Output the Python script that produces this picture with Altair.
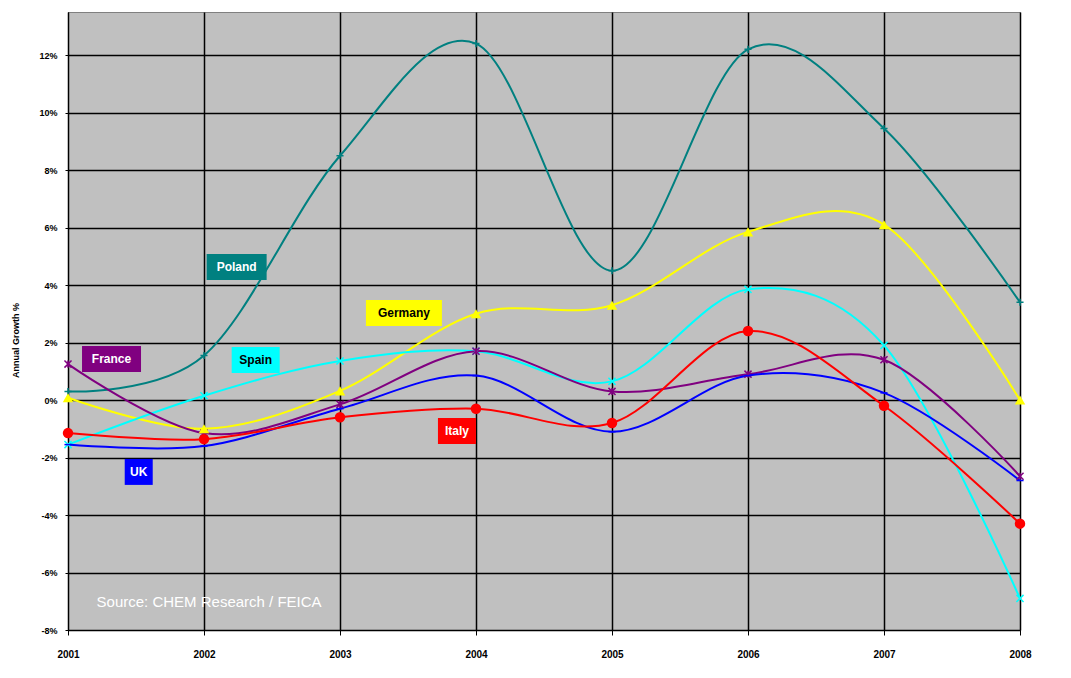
import altair as alt
import pandas as pd

years = [2001, 2002, 2003, 2004, 2005, 2006, 2007, 2008]
poland = [0.3, 1.55, 8.5, 12.4, 4.5, 12.2, 9.45, 3.4]
germany = [0.08, -1.0, 0.32, 3.0, 3.3, 5.85, 6.1, 0.0]
spain = [-1.55, 0.15, 1.36, 1.7, 0.65, 3.85, 1.9, -6.9]
france = [1.25, -1.15, -0.15, 1.7, 0.3, 0.9, 1.4, -2.65]
uk = [-1.55, -1.6, -0.3, 0.85, -1.1, 0.85, 0.25, -2.8]
italy = [-1.15, -1.36, -0.6, -0.3, -0.8, 2.4, -0.2, -4.3]

series_names = ["Poland", "Germany", "Spain", "France", "UK", "Italy"]
series_values = [poland, germany, spain, france, uk, italy]
series_colors = ["#008080", "#FFFF00", "#00FFFF", "#800080", "#0000FF", "#FF0000"]
series_shapes = [
    "M-1,0L1,0M0,-1L0,1",
    "triangle-up",
    "M-1,-1L1,1M-1,1L1,-1",
    "M-1,-1L1,1M-1,1L1,-1M0,-1L0,1",
    "M-1,0L1,0",
    "circle",
]
filled_series = ["Germany", "Italy"]

# label annotations (anchor in data space)
label_text = ["Poland", "Germany", "France", "Spain", "Italy", "UK"]
label_year = [2002.24, 2003.47, 2001.32, 2002.38, 2003.86, 2001.52]
label_val = [4.63, 3.03, 1.43, 1.39, -1.08, -2.5]
label_bg = ["#008080", "#FFFF00", "#800080", "#00FFFF", "#FF0000", "#0000FF"]
label_fg = ["white", "black", "white", "black", "white", "white"]
label_wpx = [60, 76, 59, 48, 38, 28]

y_ticks = [-8, -6, -4, -2, 0, 2, 4, 6, 8, 10, 12]
y_min, y_max = -8, 13.5
W, H = 952, 618

rows = []
for n, vals in zip(series_names, series_values):
    for yr, v in zip(years, vals):
        rows.append({"year": yr, "value": v, "series": n})
df = pd.DataFrame(rows)

px_x = W / (years[-1] - years[0])
px_y = H / (y_max - y_min)
lab = pd.DataFrame({
    "text": label_text, "year": label_year, "value": label_val,
    "bg": label_bg, "fg": label_fg, "w": label_wpx,
})
lab["x1"] = lab["year"] - lab["w"] / 2 / px_x
lab["x2"] = lab["year"] + lab["w"] / 2 / px_x
lab["y1"] = lab["value"] - 13 / px_y
lab["y2"] = lab["value"] + 13 / px_y

xscale = alt.Scale(domain=[years[0], years[-1]], nice=False, zero=False)
yscale = alt.Scale(domain=[y_min, y_max], nice=False, zero=False)

xenc = alt.X("year:Q", scale=xscale, axis=alt.Axis(
    values=years, format="d", title=None, grid=True, gridColor="black",
    gridWidth=1.5, gridOpacity=1, tickColor="black", tickSize=5,
    domainColor="black", labelFont="Liberation Sans", labelFontWeight="bold",
    labelFontSize=10, labelColor="black", labelPadding=14, labelFlush=False))
yenc = alt.Y("value:Q", scale=yscale, axis=alt.Axis(
    values=y_ticks, labelExpr="datum.value + '%'", title="Annual Growth %",
    grid=True, gridColor="black", gridWidth=1.5, gridOpacity=1,
    tickColor="black", tickSize=3, domainColor="black",
    labelFont="Liberation Sans", labelFontWeight="bold", labelFontSize=9,
    labelColor="black", labelPadding=8,
    titleFont="Liberation Sans", titleFontWeight="bold", titleFontSize=9,
    titleColor="black", titleX=-48, titleY=328))

color = alt.Color("series:N", scale=alt.Scale(domain=series_names, range=series_colors), legend=None)
shape = alt.Shape("series:N", scale=alt.Scale(domain=series_names, range=series_shapes), legend=None)

lines = alt.Chart(df).mark_line(interpolate="cardinal", tension=0, strokeWidth=2).encode(
    x=xenc, y=yenc, color=color, detail="series:N")
pts_filled = alt.Chart(df).transform_filter(
    alt.FieldOneOfPredicate(field="series", oneOf=filled_series)
).mark_point(filled=True, size=110, opacity=1).encode(
    x="year:Q", y="value:Q", color=color, shape=shape)
pts_open = alt.Chart(df).transform_filter(
    ~alt.FieldOneOfPredicate(field="series", oneOf=filled_series)
).mark_point(filled=False, size=50, strokeWidth=1.5, opacity=1).encode(
    x="year:Q", y="value:Q", color=color, shape=shape)

boxes = alt.Chart(lab).mark_rect().encode(
    x="x1:Q", x2="x2", y="y1:Q", y2="y2",
    color=alt.Color("bg:N", scale=None))
texts = alt.Chart(lab).mark_text(font="Liberation Sans", fontWeight="bold", fontSize=12).encode(
    x="year:Q", y="value:Q", text="text:N", color=alt.Color("fg:N", scale=None))

source = alt.Chart(pd.DataFrame({"year": [2001.21], "value": [-7.03], "t": ["Source: CHEM Research / FEICA"]})).mark_text(
    font="Liberation Sans", fontSize=15, color="white", align="left", baseline="middle").encode(
    x="year:Q", y="value:Q", text="t:N")

chart = alt.layer(lines, pts_open, pts_filled, boxes, texts, source).properties(
    width=W, height=H,
    autosize=alt.AutoSizeParams(type="none"),
    padding={"left": 60, "top": 4, "right": 30, "bottom": 30},
    background="white",
).configure_view(fill="#C0C0C0", stroke="#808080", strokeWidth=1)

chart.save("out.html", embed_options={"renderer": "svg", "actions": False})
